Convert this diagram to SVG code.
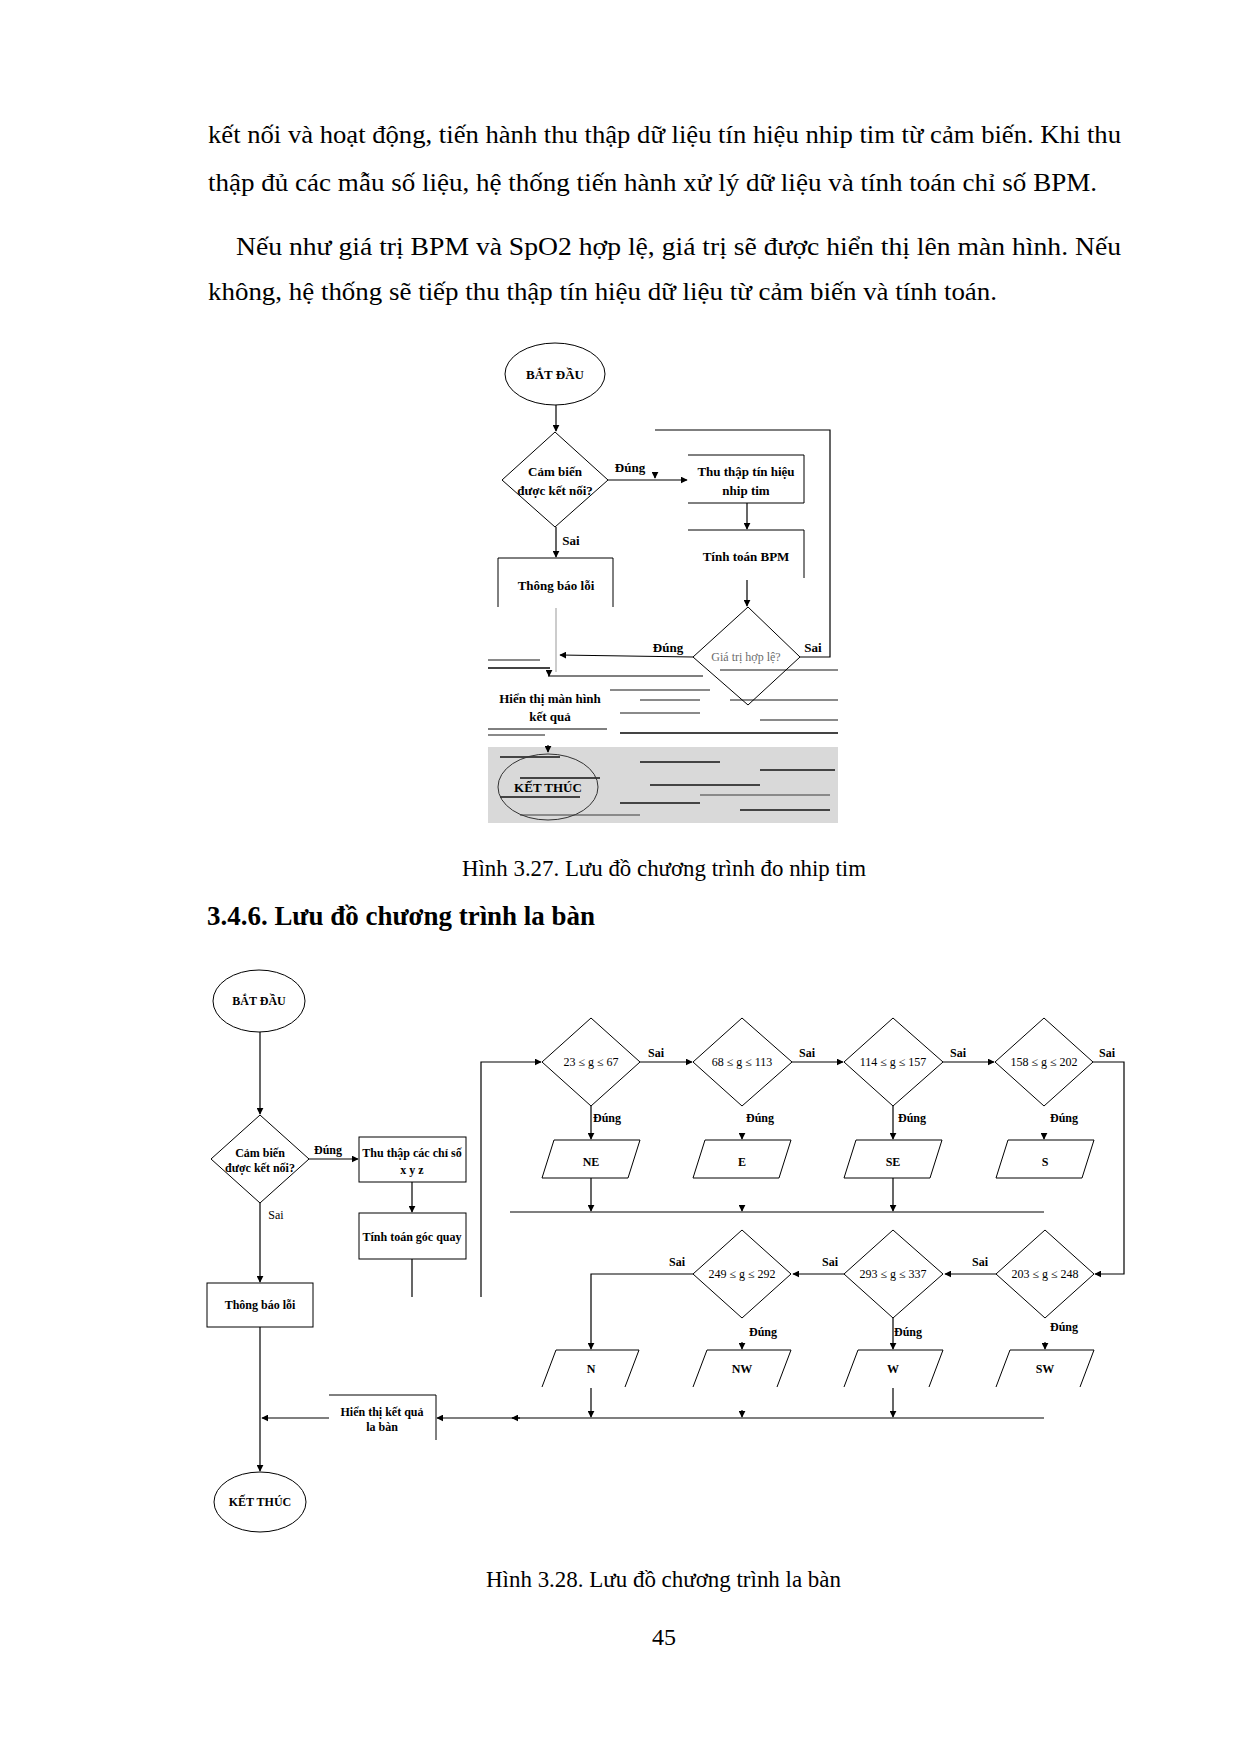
<svg xmlns="http://www.w3.org/2000/svg" width="1240" height="1754" viewBox="0 0 1240 1754">
<defs>
<style>
.t{font-family:"Liberation Serif","Times New Roman",serif;fill:#000}
.p{font-size:26px}
.n{font-size:13px;font-weight:bold;text-anchor:middle}
.s{font-size:12px;font-weight:bold;text-anchor:middle}
.r{font-size:12px;text-anchor:middle}
.ln{fill:none;stroke:#000;stroke-width:1.2}
.sh{fill:none;stroke:#000;stroke-width:1}
.st{stroke:#8a8a8a;stroke-width:2}
.sd{stroke:#444;stroke-width:2}
</style>
<marker id="a" viewBox="0 0 10 10" refX="9" refY="5" markerWidth="7" markerHeight="7" orient="auto" markerUnits="userSpaceOnUse">
<path d="M0,0 L10,5 L0,10 Z" fill="#000"/>
</marker>
</defs>
<rect width="1240" height="1754" fill="#fff"/>

<!-- body text -->
<g id="paragraph">
<text class="t p" x="208" y="143" textLength="913" lengthAdjust="spacingAndGlyphs">kết nối và hoạt động, tiến hành thu thập dữ liệu tín hiệu nhip tim từ cảm biến. Khi thu</text>
<text class="t p" x="208" y="191" textLength="889" lengthAdjust="spacingAndGlyphs">thập đủ các mẫu số liệu, hệ thống tiến hành xử lý dữ liệu và tính toán chỉ số BPM.</text>
<text class="t p" x="236" y="255" textLength="885" lengthAdjust="spacingAndGlyphs">Nếu như giá trị BPM và SpO2 hợp lệ, giá trị sẽ được hiển thị lên màn hình. Nếu</text>
<text class="t p" x="208" y="300" textLength="789" lengthAdjust="spacingAndGlyphs">không, hệ thống sẽ tiếp thu thập tín hiệu dữ liệu từ cảm biến và tính toán.</text>
</g>

<!-- Figure 3.27 background artifacts -->
<g id="fig1-artifacts">
<rect x="488" y="747" width="350" height="76" fill="#d9d9d9"/>
<line class="sd" x1="500" y1="757" x2="560" y2="757"/>
<line class="sd" x1="640" y1="762" x2="720" y2="762"/>
<line class="sd" x1="760" y1="770" x2="835" y2="770"/>
<line class="sd" x1="520" y1="778" x2="600" y2="778"/>
<line class="sd" x1="650" y1="785" x2="760" y2="785"/>
<line class="sd" x1="500" y1="797" x2="580" y2="797"/>
<line class="sd" x1="620" y1="803" x2="700" y2="803"/>
<line class="sd" x1="740" y1="810" x2="830" y2="810"/>
<line class="st" x1="520" y1="815" x2="640" y2="815"/>
<line class="st" x1="700" y1="795" x2="830" y2="795"/>
<line class="st" x1="488" y1="660" x2="540" y2="660"/>
<line class="sd" x1="488" y1="668" x2="550" y2="668"/>
<line class="st" x1="610" y1="690" x2="710" y2="690"/>
<line class="st" x1="720" y1="670" x2="838" y2="670"/>
<line class="st" x1="730" y1="700" x2="838" y2="700"/>
<line class="st" x1="620" y1="713" x2="700" y2="713"/>
<line class="st" x1="760" y1="720" x2="838" y2="720"/>
<line class="sd" x1="620" y1="733" x2="838" y2="733"/>
<line class="st" x1="488" y1="735" x2="545" y2="735"/>
<line class="st" x1="640" y1="700" x2="700" y2="700" />
</g>

<g id="fig1-connectors">
<line class="ln" x1="556" y1="405" x2="556" y2="431" marker-end="url(#a)"/>
<line class="ln" x1="608" y1="480" x2="687" y2="480" marker-end="url(#a)"/>
<line class="ln" x1="655" y1="472" x2="655" y2="478" marker-end="url(#a)"/>
<line class="ln" x1="747" y1="503" x2="747" y2="529" marker-end="url(#a)"/>
<line class="ln" x1="747" y1="580" x2="747" y2="606" marker-end="url(#a)"/>
<path class="ln" d="M800,657 H830 V430 H655"/>
<line class="ln" x1="693" y1="657" x2="560" y2="655" marker-end="url(#a)"/>
<line class="ln" x1="556" y1="527" x2="556" y2="557" marker-end="url(#a)"/>
<line x1="556" y1="608" x2="556" y2="672" stroke="#999" stroke-width="1"/>
<line class="ln" x1="549" y1="670" x2="549" y2="676" marker-end="url(#a)"/>
<line class="ln" x1="548" y1="676" x2="703" y2="676"/>
<line class="ln" x1="548" y1="745" x2="548" y2="752" marker-end="url(#a)"/>
<text class="t n" x="630" y="472">Đúng</text>
<text class="t n" x="571" y="545">Sai</text>
<text class="t n" x="668" y="652">Đúng</text>
<text class="t n" x="813" y="652">Sai</text>
</g>

<g id="f1-start">
<ellipse class="sh" cx="555" cy="374" rx="50" ry="31"/>
<text class="t n" x="555" y="379">BẮT ĐẦU</text>
</g>
<g id="f1-sensor">
<polygon class="sh" points="555,432 608,480 555,527 502,480"/>
<text class="t n" x="555" y="476">Cảm biến</text>
<text class="t n" x="555" y="495">được kết nối?</text>
</g>
<g id="f1-collect">
<path class="sh" d="M688,455 H804 V503 H688"/>
<text class="t n" x="746" y="476">Thu thập tín hiệu</text>
<text class="t n" x="746" y="495">nhip tim</text>
</g>
<g id="f1-bpm">
<path class="sh" d="M688,530 H804 V578"/>
<text class="t n" x="746" y="561">Tính toán BPM</text>
</g>
<g id="f1-valid">
<polygon class="sh" points="748,607 800,657 748,705 693,657"/>
<text class="t" x="746" y="661" font-size="12" text-anchor="middle" fill="#4a5a7a" opacity="0.6">Giá trị hợp lệ?</text>
</g>
<g id="f1-error">
<path class="sh" d="M498,607 V558 H613 V607"/>
<text class="t n" x="556" y="590">Thông báo lỗi</text>
</g>
<g id="f1-display">
<line class="sh" x1="488" y1="729" x2="607" y2="729"/>
<text class="t n" x="550" y="703" fill="#1a1a3a">Hiển thị màn hình</text>
<text class="t n" x="550" y="721" fill="#1a1a3a">kết quả</text>
</g>
<g id="f1-end">
<ellipse cx="548" cy="787" rx="50" ry="33" fill="none" stroke="#333" stroke-width="1"/>
<text class="t n" x="548" y="792" fill="#1a1a3a">KẾT THÚC</text>
</g>

<text class="t" x="462" y="876" font-size="24" textLength="404" lengthAdjust="spacingAndGlyphs">Hình 3.27. Lưu đồ chương trình đo nhip tim</text>
<text class="t" x="207" y="925" font-size="27" font-weight="bold" textLength="388" lengthAdjust="spacingAndGlyphs">3.4.6. Lưu đồ chương trình la bàn</text>

<!-- Figure 3.28 -->
<g id="fig2-connectors">
<line class="ln" x1="260" y1="1032" x2="260" y2="1114" marker-end="url(#a)"/>
<line class="ln" x1="309" y1="1159" x2="358" y2="1159" marker-end="url(#a)"/>
<line class="ln" x1="412" y1="1182" x2="412" y2="1212" marker-end="url(#a)"/>
<line class="ln" x1="412" y1="1259" x2="412" y2="1297"/>
<line class="ln" x1="260" y1="1203" x2="260" y2="1282" marker-end="url(#a)"/>
<line class="ln" x1="260" y1="1327" x2="260" y2="1471" marker-end="url(#a)"/>
<path class="ln" d="M481,1297 V1062 H541" marker-end="url(#a)"/>
<line class="ln" x1="640" y1="1062" x2="692" y2="1062" marker-end="url(#a)"/>
<line class="ln" x1="792" y1="1062" x2="843" y2="1062" marker-end="url(#a)"/>
<line class="ln" x1="943" y1="1062" x2="994" y2="1062" marker-end="url(#a)"/>
<path class="ln" d="M1093,1062 H1124 V1274 H1095" marker-end="url(#a)"/>
<line class="ln" x1="591" y1="1106" x2="591" y2="1139" marker-end="url(#a)"/>
<line class="ln" x1="742" y1="1133" x2="742" y2="1139" marker-end="url(#a)"/>
<line class="ln" x1="893" y1="1106" x2="893" y2="1139" marker-end="url(#a)"/>
<line class="ln" x1="1044" y1="1133" x2="1044" y2="1139" marker-end="url(#a)"/>
<line class="ln" x1="591" y1="1178" x2="591" y2="1211" marker-end="url(#a)"/>
<line class="ln" x1="742" y1="1205" x2="742" y2="1211" marker-end="url(#a)"/>
<line class="ln" x1="893" y1="1178" x2="893" y2="1211" marker-end="url(#a)"/>
<line class="ln" x1="510" y1="1212" x2="1044" y2="1212"/>
<line class="ln" x1="996" y1="1274" x2="945" y2="1274" marker-end="url(#a)"/>
<line class="ln" x1="844" y1="1274" x2="793" y2="1274" marker-end="url(#a)"/>
<path class="ln" d="M693,1274 H591 V1349" marker-end="url(#a)"/>
<line class="ln" x1="742" y1="1342" x2="742" y2="1349" marker-end="url(#a)"/>
<line class="ln" x1="893" y1="1318" x2="893" y2="1349" marker-end="url(#a)"/>
<line class="ln" x1="1045" y1="1342" x2="1045" y2="1349" marker-end="url(#a)"/>
<line class="ln" x1="591" y1="1388" x2="591" y2="1417" marker-end="url(#a)"/>
<line class="ln" x1="742" y1="1410" x2="742" y2="1417" marker-end="url(#a)"/>
<line class="ln" x1="893" y1="1388" x2="893" y2="1417" marker-end="url(#a)"/>
<line class="ln" x1="1044" y1="1418" x2="437" y2="1418" marker-end="url(#a)"/>
<line class="ln" x1="520" y1="1418" x2="512" y2="1418" marker-end="url(#a)"/>
<line class="ln" x1="329" y1="1418" x2="262" y2="1418" marker-end="url(#a)"/>
<text class="t s" x="328" y="1154">Đúng</text>
<text class="t r" x="276" y="1219">Sai</text>
<text class="t s" x="656" y="1057">Sai</text>
<text class="t s" x="807" y="1057">Sai</text>
<text class="t s" x="958" y="1057">Sai</text>
<text class="t s" x="1107" y="1057">Sai</text>
<text class="t s" x="607" y="1122">Đúng</text>
<text class="t s" x="760" y="1122">Đúng</text>
<text class="t s" x="912" y="1122">Đúng</text>
<text class="t s" x="1064" y="1122">Đúng</text>
<text class="t s" x="980" y="1266">Sai</text>
<text class="t s" x="830" y="1266">Sai</text>
<text class="t s" x="677" y="1266">Sai</text>
<text class="t s" x="763" y="1336">Đúng</text>
<text class="t s" x="908" y="1336">Đúng</text>
<text class="t s" x="1064" y="1331">Đúng</text>
</g>

<g id="f2-start">
<ellipse class="sh" cx="259" cy="1001" rx="46" ry="31"/>
<text class="t s" x="259" y="1005">BẮT ĐẦU</text>
</g>
<g id="f2-sensor">
<polygon class="sh" points="260,1115 309,1159 260,1203 211,1159"/>
<text class="t s" x="260" y="1157">Cảm biến</text>
<text class="t s" x="260" y="1172">được kết nối?</text>
</g>
<g id="f2-collect">
<rect class="sh" x="359" y="1137" width="107" height="45"/>
<text class="t s" x="412" y="1157">Thu thập các chỉ số</text>
<text class="t s" x="412" y="1174">x y z</text>
</g>
<g id="f2-angle">
<rect class="sh" x="359" y="1213" width="107" height="46"/>
<text class="t s" x="412" y="1241">Tính toán góc quay</text>
</g>
<g id="f2-error">
<rect class="sh" x="207" y="1283" width="106" height="44"/>
<text class="t s" x="260" y="1309">Thông báo lỗi</text>
</g>
<g id="f2-end">
<ellipse class="sh" cx="260" cy="1502" rx="46" ry="30"/>
<text class="t s" x="260" y="1506">KẾT THÚC</text>
</g>
<g id="f2-display">
<path class="sh" d="M329,1395 H436 V1440"/>
<text class="t s" x="382" y="1416">Hiển thị kết quả</text>
<text class="t s" x="382" y="1431">la bàn</text>
</g>

<g id="d-23-67">
<polygon class="sh" points="591,1018 640,1062 591,1106 542,1062"/>
<text class="t r" x="591" y="1066">23 ≤ g ≤ 67</text>
</g>
<g id="d-68-113">
<polygon class="sh" points="742,1018 792,1062 742,1106 693,1062"/>
<text class="t r" x="742" y="1066">68 ≤ g ≤ 113</text>
</g>
<g id="d-114-157">
<polygon class="sh" points="893,1018 943,1062 893,1106 844,1062"/>
<text class="t r" x="893" y="1066">114 ≤ g ≤ 157</text>
</g>
<g id="d-158-202">
<polygon class="sh" points="1044,1018 1093,1062 1044,1106 995,1062"/>
<text class="t r" x="1044" y="1066">158 ≤ g ≤ 202</text>
</g>
<g id="d-249-292">
<polygon class="sh" points="742,1230 791,1274 742,1318 693,1274"/>
<text class="t r" x="742" y="1278">249 ≤ g ≤ 292</text>
</g>
<g id="d-293-337">
<polygon class="sh" points="893,1230 943,1274 893,1318 844,1274"/>
<text class="t r" x="893" y="1278">293 ≤ g ≤ 337</text>
</g>
<g id="d-203-248">
<polygon class="sh" points="1045,1230 1094,1274 1045,1318 996,1274"/>
<text class="t r" x="1045" y="1278">203 ≤ g ≤ 248</text>
</g>

<g id="o-NE"><polygon class="sh" points="554,1140 640,1140 628,1178 542,1178"/><text class="t s" x="591" y="1166">NE</text></g>
<g id="o-E"><polygon class="sh" points="705,1140 791,1140 779,1178 693,1178"/><text class="t s" x="742" y="1166">E</text></g>
<g id="o-SE"><polygon class="sh" points="856,1140 942,1140 930,1178 844,1178"/><text class="t s" x="893" y="1166">SE</text></g>
<g id="o-S"><polygon class="sh" points="1008,1140 1094,1140 1082,1178 996,1178"/><text class="t s" x="1045" y="1166">S</text></g>

<g id="o-N"><path class="sh" d="M542,1387 L556,1350 H639 L625,1387"/><text class="t s" x="591" y="1373">N</text></g>
<g id="o-NW"><path class="sh" d="M693,1387 L707,1350 H791 L777,1387"/><text class="t s" x="742" y="1373">NW</text></g>
<g id="o-W"><path class="sh" d="M844,1387 L858,1350 H943 L929,1387"/><text class="t s" x="893" y="1373">W</text></g>
<g id="o-SW"><path class="sh" d="M996,1387 L1010,1350 H1094 L1080,1387"/><text class="t s" x="1045" y="1373">SW</text></g>

<text class="t" x="486" y="1587" font-size="24" textLength="355" lengthAdjust="spacingAndGlyphs">Hình 3.28. Lưu đồ chương trình la bàn</text>
<text class="t" x="664" y="1645" font-size="24" text-anchor="middle">45</text>
</svg>
